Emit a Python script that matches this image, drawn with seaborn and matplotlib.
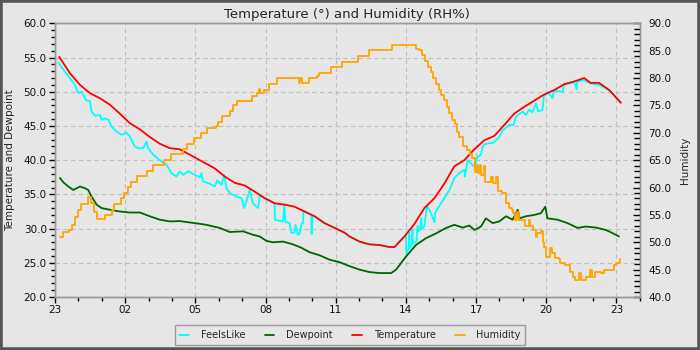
import numpy as np
import pandas as pd
import matplotlib
matplotlib.use("Agg")
import matplotlib.pyplot as plt
from matplotlib.ticker import MultipleLocator, FormatStrFormatter
import seaborn as sns

# hours since 23:00 of the first day
temp_t = [0.18, 0.64, 1.07, 1.49, 1.92, 2.35, 2.77, 3.2, 3.63, 4.05, 4.48, 4.91, 5.33, 5.76, 6.19,
          6.40, 6.83, 7.26, 7.68, 8.11, 8.54, 8.96, 9.39, 9.82, 10.24, 10.67, 11.1, 11.52, 11.95,
          12.38, 12.59, 13.02, 13.44, 13.87, 14.30, 14.51, 14.94, 15.36, 15.79, 16.22, 16.65,
          17.07, 17.50, 17.93, 18.35, 18.78, 19.21, 19.63, 20.06, 20.49, 20.91, 21.34, 21.77,
          22.19, 22.62, 22.90, 23.26, 23.69, 24.19]
temp_v = [55.1, 52.7, 51.0, 49.8, 49.05, 48.1, 46.8, 45.4, 44.5, 43.4, 42.4, 41.75, 41.6, 40.8, 40.0,
          39.6, 38.8, 37.6, 36.7, 36.3, 35.4, 34.45, 33.7, 33.5, 33.2, 32.5, 31.8, 30.8, 30.1,
          29.4, 28.85, 28.1, 27.7, 27.6, 27.3, 27.3, 28.85, 30.65, 33.0, 34.45, 36.6,
          39.1, 40.0, 41.6, 42.9, 43.55, 45.15, 46.8, 47.8, 48.7, 49.6, 50.25, 51.1,
          51.5, 52.0, 51.3, 51.3, 50.25, 48.4]

feels_t = [0.14, 0.43, 0.64, 0.85, 0.99, 1.14, 1.28, 1.35, 1.49, 1.56, 1.71, 1.92, 1.99, 2.13, 2.28,
           2.42, 2.63, 2.85, 3.06, 3.2, 3.41, 3.56, 3.77, 3.91, 3.98, 4.2, 4.48, 4.77, 4.98, 5.19,
           5.33, 5.48, 5.69, 5.98, 6.19, 6.26, 6.33, 6.62, 6.83, 6.94, 7.11, 7.23, 7.33, 7.47, 7.75,
           7.97, 8.08, 8.18, 8.32, 8.46, 8.68, 8.75, 8.80, 8.96, 9.39, 9.40, 9.75, 9.80, 9.85,
           10.03, 10.10, 10.24, 10.28, 10.38, 10.45, 10.55, 10.60, 10.62, 10.95, 10.97, 11.0,
           11.1, 11.52, 11.95, 12.38, 12.59, 13.02, 13.44, 13.87, 14.30, 14.51, 14.94, 15.0,
           15.02, 15.12, 15.14, 15.16, 15.25, 15.28, 15.30, 15.45, 15.50, 15.52, 15.60, 15.66,
           15.68, 15.79, 15.90, 16.07, 16.22, 16.25, 16.50, 16.72, 16.86, 17.07, 17.28, 17.50,
           17.52, 17.64, 17.78, 17.93, 18.07, 18.21, 18.28, 18.35, 18.60, 18.71, 18.99, 19.13,
           19.42, 19.60, 19.71, 19.99, 20.13, 20.27, 20.40, 20.56, 20.66, 20.84, 20.90, 21.10,
           21.27, 21.32, 21.70, 21.75, 22.20, 22.30, 22.32, 22.62, 22.90, 23.26, 23.69, 24.19]
feels_v = [54.25, 52.9, 52.0, 51.0, 49.8, 50.0, 49.05, 48.7, 48.65, 47.1, 46.5, 46.6, 45.9, 46.1, 45.9,
           44.9, 44.2, 43.7, 44.0, 43.45, 42.0, 41.75, 41.75, 42.7, 41.75, 40.8, 40.0, 39.3, 38.1, 37.6,
           38.35, 37.85, 38.4, 37.85, 37.5, 38.1, 36.9, 36.55, 36.15, 37.1, 36.4, 37.85, 35.9, 35.2, 34.7,
           34.45, 33.0, 33.95, 35.65, 33.7, 33.0, 34.7, 34.8, 34.45, 33.7, 31.3, 31.05, 33.5, 31.0,
           30.8, 29.4, 29.4, 30.55, 29.1, 29.2, 30.8, 30.8, 32.5, 32.0, 29.2, 31.9,
           31.8, 30.8, 30.1, 29.4, 28.85, 28.1, 27.7, 27.6, 27.3, 27.3, 28.85, 29.1,
           26.4, 27.1, 29.4, 27.2, 27.5, 29.9, 27.8, 28.1, 30.4, 29.6, 29.8, 31.5,
           30.0, 30.3, 33.4, 32.3, 30.9, 32.3, 33.7, 34.9, 35.65, 37.4, 38.1, 38.6,
           37.6, 40.0, 39.55, 39.05, 40.5, 40.8, 42.0, 42.3, 42.5, 42.5, 43.35, 44.3,
           45.15, 45.15, 46.4, 47.1, 46.6, 47.4, 47.0, 48.3, 47.1, 47.35, 49.4, 49.9,
           49.05, 50.2, 50.0, 51.0, 51.4, 50.35, 51.5, 51.7, 51.2, 51.0, 50.25, 48.4]

dew_t = [0.21, 0.36, 0.57, 0.78, 1.07, 1.28, 1.42, 1.56, 1.78, 1.99, 2.35, 2.77, 3.2, 3.63, 4.05,
         4.48, 4.91, 5.33, 5.76, 6.19, 6.47, 7.04, 7.47, 8.04, 8.46, 8.75, 9.04, 9.32, 9.75, 10.17,
         10.53, 10.88, 11.31, 11.74, 12.16, 12.52, 13.02, 13.44, 13.87, 14.37, 14.58, 15.0, 15.43,
         15.86, 16.29, 16.72, 17.07, 17.43, 17.71, 17.93, 18.21, 18.42, 18.71, 18.99, 19.28, 19.56,
         19.78, 19.85, 20.13, 20.49, 20.77, 20.96, 21.05, 21.48, 21.91, 22.34, 22.69, 23.12, 23.55,
         23.83, 24.11]
dew_v = [37.4, 36.75, 36.15, 35.65, 36.15, 35.9, 35.65, 34.7, 33.5, 33.0, 32.75, 32.5, 32.35, 32.35, 31.8,
         31.3, 31.05, 31.1, 30.9, 30.7, 30.55, 30.1, 29.5, 29.6, 29.1, 28.85, 28.2, 28.0, 28.1, 27.7,
         27.2, 26.55, 26.1, 25.45, 25.1, 24.6, 24.0, 23.65, 23.5, 23.5, 24.0, 25.9, 27.6,
         28.6, 29.3, 30.1, 30.55, 30.15, 30.45, 29.8, 30.3, 31.5, 30.8, 31.05, 31.8, 31.3,
         32.75, 31.5, 31.8, 32.0, 32.25, 33.2, 31.5, 31.3, 30.8, 30.1, 30.3, 30.15, 29.8,
         29.35, 28.85]

hum_t = [0.21, 0.33, 0.60, 0.71, 0.85, 0.99, 1.12, 1.42, 1.54, 1.65, 1.80, 2.15, 2.42, 2.53, 2.82,
         2.95, 3.10, 3.25, 3.50, 3.95, 4.18, 4.65, 4.95, 5.45, 5.65, 5.95, 6.25, 6.50, 6.90, 6.97,
         7.15, 7.50, 7.62, 7.80, 8.40, 8.62, 8.70, 8.75, 8.92, 9.15, 9.50, 10.42, 10.48, 10.58,
         10.85, 11.22, 11.28, 11.78, 12.28, 12.97, 13.42, 14.42, 15.42, 15.55, 15.70, 15.82,
         15.95, 16.08, 16.18, 16.30, 16.40, 16.48, 16.62, 16.76, 16.84, 16.97, 17.10, 17.18,
         17.25, 17.45, 17.60, 17.75, 17.83, 17.97, 18.02, 18.07, 18.15, 18.20, 18.33, 18.38,
         18.50, 18.62, 18.72, 18.85, 18.92, 19.10, 19.30, 19.40, 19.52, 19.60, 19.68, 19.75,
         19.85, 20.10, 20.25, 20.32, 20.45, 20.55, 20.62, 20.78, 20.85, 20.92, 21.00, 21.15,
         21.25, 21.38, 21.55, 21.60, 21.80, 22.02, 22.15, 22.25, 22.40, 22.50, 22.70, 22.85,
         22.95, 23.10, 23.35, 23.45, 23.88, 24.00, 24.14, 24.17]
hum_v = [51.0, 51.9, 52.2, 53.1, 54.7, 55.9, 57.0, 58.2, 57.1, 55.6, 54.2, 55.0, 55.9, 57.0, 58.0,
         59.0, 60.1, 61.1, 62.1, 63.1, 64.1, 65.0, 66.1, 67.0, 68.0, 69.0, 69.9, 70.8, 71.3, 72.0,
         73.0, 74.0, 75.1, 75.9, 76.7, 77.2, 78.0, 77.2, 77.8, 79.0, 80.0, 79.1, 80.0, 79.1,
         80.0, 80.3, 81.0, 82.0, 83.0, 84.0, 85.1, 86.0, 85.3, 85.1, 84.2, 83.1,
         82.1, 81.2, 80.0, 79.0, 77.8, 76.9, 76.0, 74.8, 73.6, 72.4, 71.7, 70.2,
         69.3, 67.5, 66.9, 66.2, 65.4, 62.9, 64.1, 62.6, 64.1, 62.3, 64.0, 61.1,
         61.1, 62.0, 60.8, 62.0, 59.3, 59.0, 57.1, 56.2, 55.9, 55.3, 54.1, 55.5,
         54.1, 52.9, 54.1, 52.9, 52.2, 51.0, 51.7, 52.0, 50.1, 49.2, 47.4, 48.9,
         48.0, 47.1, 47.0, 46.2, 45.9, 44.6, 43.7, 43.1, 44.3, 43.1, 43.7, 44.9,
         43.7, 44.6, 44.3, 44.9, 45.9, 46.2, 46.9, 46.9]

xtick_pos = [0, 3, 6, 9, 12, 15, 18, 21, 24]
xtick_labels = ["23", "02", "05", "08", "11", "14", "17", "20", "23"]

sns.set_style("white")
plt.rcParams['font.family'] = ['DejaVu Sans']

BG = "#e6e6e6"
fig = plt.figure(figsize=(7, 3.5), dpi=100, facecolor=BG)
ax = fig.add_axes([0.0786, 0.1514, 0.8354, 0.7819])
ax.set_facecolor(BG)
ax2 = ax.twinx()

lw = 1.3
sns.lineplot(x=feels_t, y=feels_v, ax=ax, color="#00ffff", lw=lw, estimator=None, sort=False,
             label="FeelsLike", zorder=3)
sns.lineplot(x=dew_t, y=dew_v, ax=ax, color="#006400", lw=lw, estimator=None, sort=False,
             label="Dewpoint", zorder=3)
sns.lineplot(x=temp_t, y=temp_v, ax=ax, color="#ff0000", lw=lw, estimator=None, sort=False,
             label="Temperature", zorder=4)
sns.lineplot(x=hum_t, y=hum_v, ax=ax2, color="#ffa500", lw=lw, estimator=None, sort=False,
             drawstyle="steps-post", label="Humidity", zorder=3)

ax.set_xlim(0, 25)
ax.set_ylim(20, 60)
ax2.set_ylim(40, 90)
ax.set_xticks(xtick_pos)
ax.set_xticklabels(xtick_labels)
ax.xaxis.set_minor_locator(MultipleLocator(1))
ax.yaxis.set_major_locator(MultipleLocator(5))
ax.yaxis.set_minor_locator(MultipleLocator(1))
ax.yaxis.set_major_formatter(FormatStrFormatter("%.1f"))
ax2.yaxis.set_major_locator(MultipleLocator(5))
ax2.yaxis.set_minor_locator(MultipleLocator(1))
ax2.yaxis.set_major_formatter(FormatStrFormatter("%.1f"))

ax.grid(True, which="major", color="#bdbdbd", linestyle=(0, (4, 3)), lw=0.8)
ax.set_axisbelow(True)

for a in (ax, ax2):
    for s in a.spines.values():
        s.set_color("#999999")
        s.set_linewidth(1.0)

ax.tick_params(axis="both", which="major", direction="out", length=4, width=1, color="black",
               labelsize=7.5, pad=2, labelcolor="#111111")
ax.tick_params(axis="both", which="minor", direction="out", length=3, width=1, color="black")
ax.tick_params(axis="y", which="both", left=True, right=False)
ax.tick_params(axis="x", which="both", bottom=True, top=False)
ax2.tick_params(axis="y", which="both", left=False, right=True)
ax2.tick_params(axis="y", which="major", direction="in", length=5, width=1, color="black",
                labelsize=7.5, pad=6, labelcolor="#111111")
ax2.tick_params(axis="y", which="minor", direction="in", length=4, width=1, color="black")

ax.set_xlabel("")
ax.set_ylabel("Temperature and Dewpoint", fontsize=7.5, labelpad=6)
ax2.set_ylabel("Humidity", fontsize=7.5, labelpad=6)
ax.set_title("Temperature (\u00b0) and Humidity (RH%)", fontsize=9.5, pad=4)

h1, l1 = ax.get_legend_handles_labels()
h2, l2 = ax2.get_legend_handles_labels()
ax.get_legend().remove()
ax2.get_legend().remove()
leg = fig.legend(h1 + h2, l1 + l2, loc="lower center", bbox_to_anchor=(0.5, 0.0), ncol=4,
                 fontsize=7, frameon=True, fancybox=False, handlelength=1.0, handletextpad=1.2,
                 columnspacing=2.0, borderpad=0.5, edgecolor="#888888")
leg.get_frame().set_facecolor(BG)
leg.get_frame().set_linewidth(1.0)

fig.patches.append(plt.Rectangle((0, 0), 1, 1, transform=fig.transFigure, fill=False,
                                 edgecolor="#555555", linewidth=4, zorder=10))

fig.savefig("out.png", dpi=100, facecolor=BG)
